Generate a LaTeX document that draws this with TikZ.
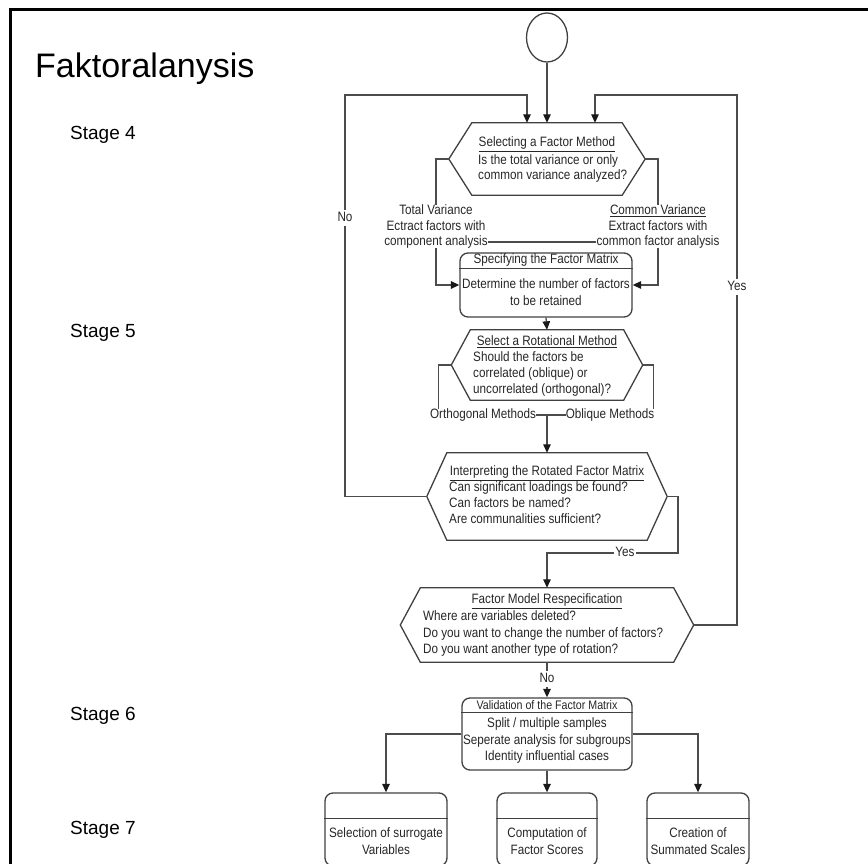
\documentclass[tikz,border=0pt]{standalone}
\usepackage{fontspec}
\setmainfont{Liberation Sans}
\newfontfamily\bodyfont[FakeStretch=0.86]{Liberation Sans}
\usetikzlibrary{arrows.meta,shapes.geometric}

% hexagonal decision box: name, x, y, width of flat edge, height, tip depth
\newcommand\hexnode[6]{%
  \node[hexframe, minimum width=#4pt, minimum height=#5pt] (#1) at (#2,#3) {};
  \coordinate (#1-l) at ([xshift=-#6pt]#1.west);
  \coordinate (#1-r) at ([xshift=#6pt]#1.east);
  \draw[boxline] (#1.north west) -- (#1.north east) -- (#1-r) -- (#1.south east)
    -- (#1.south west) -- (#1-l) -- cycle;}

% rounded box with a header band: name, x, y, width, height, header depth
\newcommand\bandbox[6]{%
  \node[rbox, minimum width=#4pt, minimum height=#5pt] (#1) at (#2,#3) {};
  \draw[boxline] ([yshift=-#6pt]#1.north west) -- ([yshift=-#6pt]#1.north east);}

\begin{document}
\begin{tikzpicture}[x=1pt,y=-1pt,
  wire/.style={draw=black!70, line width=1.3pt},
  arr/.style={wire, -{Triangle[length=8.5pt,width=7.5pt,color=black!90]}},
  boxline/.style={draw=black!75, line width=1.3pt},
  hexframe/.style={inner sep=0pt, draw=none},
  rbox/.style={boxline, rounded corners=8pt, inner sep=0pt},
  txt/.style={inner sep=0pt, text=black!85,
    font=\bodyfont\fontsize{13.6}{15.5}\selectfont,
    text height=9.6pt, text depth=2.6pt},
  onwire/.style={txt, fill=white, inner xsep=1pt, inner ysep=2pt},
  stage/.style={inner sep=0pt, anchor=base west, font=\fontsize{19}{22}\selectfont},
]
\useasboundingbox (0,0) rectangle (868,864);

% page frame
\draw[line width=3pt] (10.5,866) -- (10.5,10) -- (870,10);

% headings
\node[inner sep=0pt, anchor=base west, font=\fontsize{34}{38}\selectfont] (title) at (35,78) {Faktoralanysis};
\node[stage] (st4) at (70,140) {Stage 4};
\node[stage] (st5) at (70,337) {Stage 5};
\node[stage] (st6) at (70,720) {Stage 6};
\node[stage] (st7) at (70,834) {Stage 7};

% start
\node[boxline, ellipse, minimum width=41pt, minimum height=49pt, inner sep=0pt] (start) at (547,37.5) {};

% stage 4: factor method
\hexnode{hexA}{547}{159}{150}{72}{23}
\node[txt] (hA0) at (547,143) {\underline{Selecting a Factor Method}};
\node[txt, anchor=west] (hA1) at (478,161) {Is the total variance or only};
\node[txt, anchor=west] (hA2) at (478,175.5) {common variance analyzed?};

\node[txt] (tv1) at (436,211) {Total Variance};
\node[txt] (tv2) at (436,227) {Ectract factors with};
\node[txt] (tv3) at (436,242) {component analysis};
\node[txt] (cv1) at (658,211) {\underline{Common Variance}};
\node[txt] (cv2) at (658,227) {Extract factors with};
\node[txt] (cv3) at (658,242) {common factor analysis};

\bandbox{spec}{546}{285}{172}{64}{16}
\node[txt] (sp0) at (546,260) {Specifying the Factor Matrix};
\node[txt] (sp1) at (546,285) {Determine the number of factors};
\node[txt] (sp2) at (546,302) {to be retained};

% stage 5: rotation
\hexnode{hexB}{547}{365}{153}{70}{19}
\node[txt] (hB0) at (547,342) {\underline{Select a Rotational Method}};
\node[txt, anchor=west] (hB1) at (473,358) {Should the factors be};
\node[txt, anchor=west] (hB2) at (473,374) {correlated (oblique) or};
\node[txt, anchor=west] (hB3) at (473,390) {uncorrelated (orthogonal)?};
\node[txt] (om) at (483,415) {Orthogonal Methods};
\node[txt] (ob) at (610,415) {Oblique Methods};

\hexnode{hexC}{547}{496.5}{200}{87}{20}
\node[txt] (hC0) at (547,472) {\underline{Interpreting the Rotated Factor Matrix}};
\node[txt, anchor=west] (hC1) at (449,488) {Can significant loadings be found?};
\node[txt, anchor=west] (hC2) at (449,503.5) {Can factors be named?};
\node[txt, anchor=west] (hC3) at (449,520) {Are communalities sufficient?};

\hexnode{hexD}{547}{625}{253}{74}{20}
\node[txt] (hD0) at (547,600) {\underline{Factor Model Respecification}};
\node[txt, anchor=west] (hD1) at (423,617) {Where are variables deleted?};
\node[txt, anchor=west] (hD2) at (423,633.5) {Do you want to change the number of factors?};
\node[txt, anchor=west] (hD3) at (423,650) {Do you want another type of rotation?};

% stage 6: validation
\bandbox{val}{547}{734}{170}{72}{15}
\node[txt, font=\bodyfont\fontsize{12.4}{14}\selectfont] (va0) at (547,706) {Validation of the Factor Matrix};
\node[txt] (va1) at (547,724) {Split / multiple samples};
\node[txt] (va2) at (547,741) {Seperate analysis for subgroups};
\node[txt] (va3) at (547,757) {Identity influential cases};

% stage 7: outcomes
\bandbox{selA}{386}{829.5}{122}{73}{26}
\bandbox{selB}{547}{829.5}{100}{73}{26}
\bandbox{selC}{698}{829.5}{102}{73}{26}
\node[txt] (sa1) at (386,834) {Selection of surrogate};
\node[txt] (sa2) at (386,851) {Variables};
\node[txt] (sb1) at (547,834) {Computation of};
\node[txt] (sb2) at (547,851) {Factor Scores};
\node[txt] (sc1) at (698,834) {Creation of};
\node[txt] (sc2) at (698,851) {Summated Scales};

% connectors
\coordinate (noBend) at (345,95);
\coordinate (yesBend) at (737,95);
\coordinate (yesTurn) at (678,553);

\draw[arr] (start.south) -- (hexA.north);
\draw[arr] (hexC-l) -| (noBend) -| ([xshift=-20pt]hexA.north);
\draw[arr] (hexD-r) -| (yesBend) -| ([xshift=48pt]hexA.north);

\draw[wire] (hexA-l) -| (tv1.north);
\draw[arr] (tv3.south) |- (spec.west);
\draw[wire] (hexA-r) -| (cv1.north);
\draw[arr] (cv3.south) |- (spec.east);
\draw[wire] (tv3.east) -- (cv3.west);
\draw[arr] (spec.south) -- (hexB.north);

\draw[wire] (hexB-l) -| ([xshift=9pt]om.north west);
\draw[wire] (hexB-r) -| ([xshift=-1pt]ob.north east);
\draw[wire] (om.east) -- (ob.west);
\draw[arr] (om.east -| hexC.north) -- (hexC.north);

\draw[arr] (hexC-r) -| (yesTurn) -| (hexD.north);
\draw[arr] (hexD.south) -- (val.north);

\draw[arr] (val.west) -| (selA.north);
\draw[arr] (val.east) -| (selC.north);
\draw[arr] (val.south) -- (selB.north);

% labels sitting on the connectors
\node[onwire] (noA) at (345,218) {No};
\node[onwire] (yesA) at (737,287) {Yes};
\node[onwire] (yesB) at (625,553) {Yes};
\node[onwire] (noB) at (547,679) {No};
\end{tikzpicture}
\end{document}
